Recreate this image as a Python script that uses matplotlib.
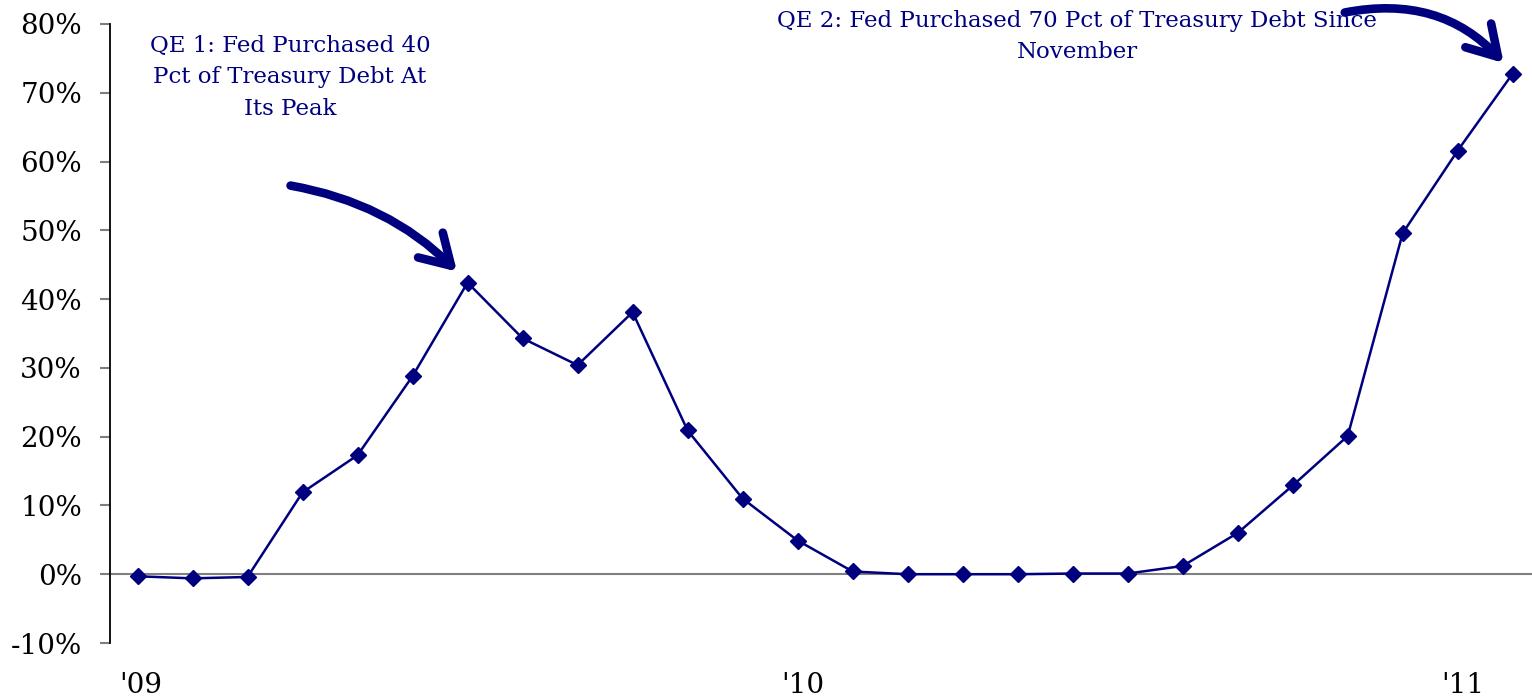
import matplotlib
matplotlib.use("Agg")
import matplotlib.pyplot as plt
from matplotlib.ticker import FuncFormatter

# Share of Treasury debt issuance purchased by the Fed, monthly Jan 2009 - Feb 2011
pct_purchased = [-0.3, -0.6, -0.4, 11.9, 17.3, 28.8, 42.4, 34.3, 30.4, 38.1,
                 20.9, 11.0, 4.9, 0.4, 0.0, 0.0, 0.0, 0.1, 0.1, 1.2,
                 6.0, 12.9, 20.1, 49.6, 61.6, 72.8]
year_ticks = [0.05, 12.1, 24.1]
year_labels = ["'09", "'10", "'11"]
y_ticks = list(range(-10, 81, 10))

qe1_text = "QE 1: Fed Purchased 40\nPct of Treasury Debt At\nIts Peak"
qe2_text = "QE 2: Fed Purchased 70 Pct of Treasury Debt Since\nNovember"
qe1_peak = 6
qe2_end = len(pct_purchased) - 1

navy = "#00007f"
serif = ["DejaVu Serif"]

fig = plt.figure(figsize=(15.32, 6.99), dpi=100)
ax = fig.add_axes([110 / 1532, 1 - 643 / 699, 1 - 110 / 1532, (643 - 24) / 699])

x = list(range(len(pct_purchased)))
ax.axhline(0, color="#7f7f7f", lw=1.5, zorder=1)
ax.plot(x, pct_purchased, color=navy, lw=1.8, marker="D", markersize=8,
        markerfacecolor=navy, markeredgecolor=navy, zorder=3)

ax.set_xlim(-0.5, 25.35)
ax.set_ylim(-10, 80)
ax.set_yticks(y_ticks)
ax.yaxis.set_major_formatter(FuncFormatter(lambda v, _: f"{v:.0f}%"))
ax.set_xticks(year_ticks)
ax.set_xticklabels(year_labels)

for s in ["top", "right", "bottom"]:
    ax.spines[s].set_visible(False)
ax.spines["left"].set_color("black")
ax.spines["left"].set_linewidth(1.3)

ax.tick_params(axis="y", direction="out", length=7.2, width=1.5, color="#7f7f7f",
               labelsize=20, pad=13, labelcolor="black")
ax.tick_params(axis="x", length=0, labelsize=20, pad=21, labelcolor="black")
for lab in ax.get_xticklabels() + ax.get_yticklabels():
    lab.set_family(serif)

# Callout text
fig.text(290 / 1532, 1 - 35 / 699, qe1_text, ha="center", va="top", color=navy,
         fontsize=16.5, family=serif, linespacing=1.55)
fig.text(1077 / 1532, 1 - 10 / 699, qe2_text, ha="center", va="top", color=navy,
         fontsize=16.5, family=serif, linespacing=1.55)

# Curved arrows pointing at the two peaks
arrow_style = "->,head_length=1.0,head_width=0.6"
ax.annotate("", xy=(qe1_peak, pct_purchased[qe1_peak]), xycoords="data",
            xytext=(-177, 97), textcoords="offset pixels",
            arrowprops=dict(arrowstyle=arrow_style, color=navy, lw=6.2,
                            mutation_scale=21, shrinkA=0, shrinkB=11,
                            connectionstyle="arc3,rad=-0.17"),
            annotation_clip=False)
ax.annotate("", xy=(qe2_end, pct_purchased[qe2_end]), xycoords="data",
            xytext=(-168, 61), textcoords="offset pixels",
            arrowprops=dict(arrowstyle=arrow_style, color=navy, lw=6.2,
                            mutation_scale=21, shrinkA=0, shrinkB=10,
                            connectionstyle="arc3,rad=-0.3"),
            annotation_clip=False)

fig.savefig("out.png", dpi=100)
